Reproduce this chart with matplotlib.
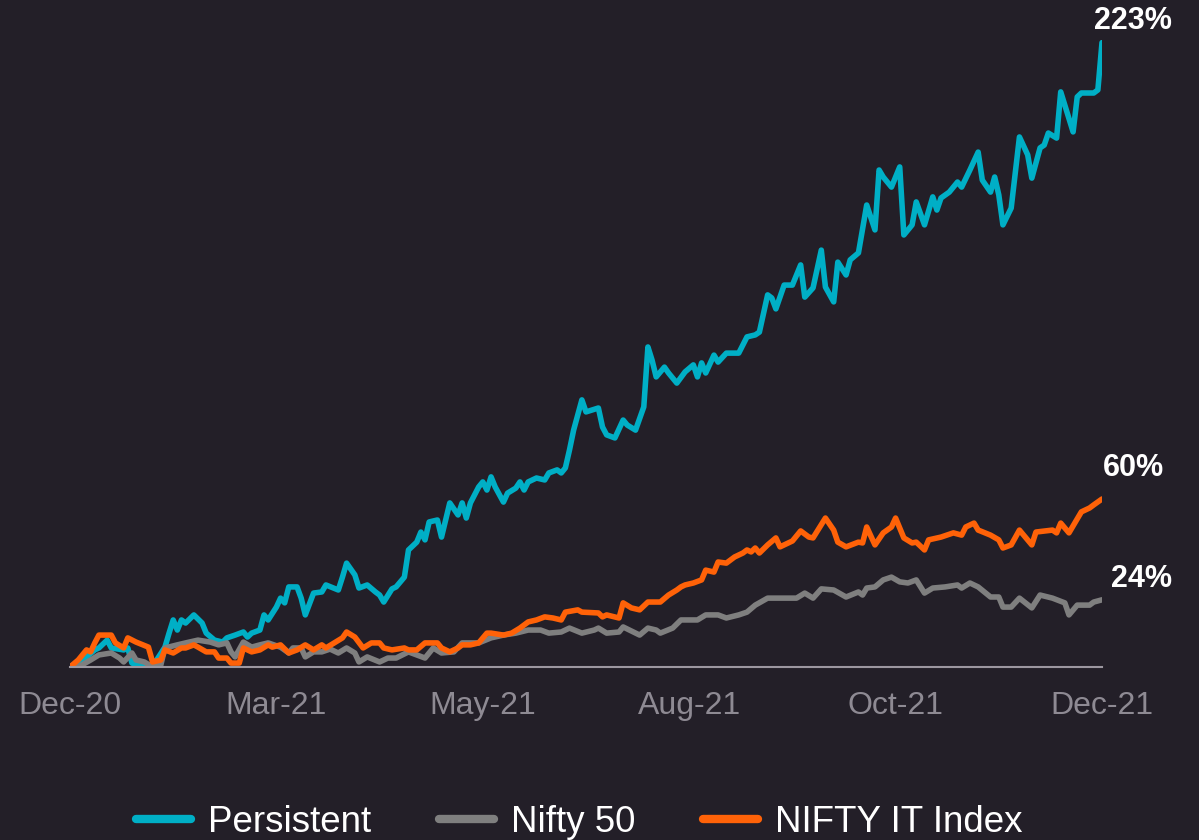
import matplotlib.pyplot as plt

# Cumulative return (%), x = trading day since Dec-20
persistent_day = [0, 4, 6, 7, 9, 10, 13, 14, 15, 17, 19, 21, 23, 24, 25, 26, 27, 28, 30, 32,
                  33, 35, 37, 38, 40, 42, 43, 44, 46, 47, 48, 50, 51, 52, 53, 55, 56, 57, 59, 61,
                  62, 65, 66, 67, 69, 70, 72, 74, 75, 76, 78, 79, 81, 82, 84, 85, 86, 87, 89, 90,
                  92, 94, 95, 96, 97, 99, 100, 101, 102, 103, 105, 106, 108, 109, 110, 111, 113, 115, 116, 118,
                  119, 120, 121, 122, 124, 125, 128, 129, 130, 132, 134, 135, 137, 139, 140, 141, 142, 144, 145, 147,
                  149, 151, 152, 153, 154, 156, 157, 159, 162, 164, 166, 167, 169, 170, 171, 173, 175, 177, 178, 180,
                  182, 183, 185, 186, 188, 189, 191, 193, 195, 196, 197, 199, 201, 202, 204, 205, 207, 209, 210, 211,
                  213, 215, 216, 218, 220, 221, 223, 224, 225, 226, 228, 230, 232, 233, 235, 236, 237, 239, 240, 243,
                  244, 245, 248, 249, 250]
persistent_pct = [0, 3.6, 6.1, 6.8, 9.6, 6.8, 6.1, 6.8, 1.4, 0.4, 0, 2.5, 7.1, 12.1, 16.8, 13.2, 16.8, 15.7, 18.6, 15.7,
                  12.1, 9.6, 8.9, 10.4, 11.4, 12.5, 10.7, 12.1, 13.2, 18.6, 16.8, 21.4, 24.6, 22.9, 28.6, 28.6, 24.6, 18.6, 26.4, 26.8,
                  29.3, 27.5, 32.1, 37.1, 32.9, 28.2, 29.3, 26.8, 25.7, 23.2, 27.9, 28.6, 32.1, 41.8, 44.6, 48.2, 45.4, 51.8, 52.5, 46.4,
                  58.6, 54.3, 58.6, 53.2, 58.6, 64.3, 66.1, 63.2, 67.9, 64.3, 58.9, 62.1, 63.9, 66.1, 63.2, 66.1, 67.5, 66.8, 69.3, 70.4,
                  69.3, 71.1, 77.5, 84.6, 95.4, 91.1, 92.5, 85.7, 82.9, 81.8, 88.2, 86.4, 84.6, 92.9, 114.3, 109.6, 103.6, 107.1, 105.0, 101.4,
                  105.4, 107.9, 103.6, 108.6, 105.0, 111.4, 108.9, 112.1, 112.1, 117.9, 118.6, 119.6, 132.9, 131.8, 127.9, 136.4, 136.4, 143.6, 132.1, 135.4,
                  148.9, 135.7, 130.4, 144.6, 140.0, 145.4, 147.9, 165.0, 156.1, 177.5, 175.0, 171.4, 178.6, 154.3, 157.9, 166.1, 157.9, 167.9, 163.2, 167.5,
                  169.6, 173.2, 171.4, 177.5, 183.9, 173.9, 169.6, 175.0, 168.6, 157.9, 163.9, 189.3, 182.9, 174.6, 185.4, 186.4, 190.7, 188.9, 205.4, 191.1,
                  203.6, 205.0, 205.0, 206.1, 223.0]

nifty_day = [0, 2, 5, 7, 10, 12, 13, 15, 16, 18, 20, 22, 23, 26, 28, 31, 34, 36, 38, 39,
             40, 42, 44, 46, 48, 51, 53, 54, 56, 57, 59, 61, 63, 65, 67, 69, 70, 72, 75, 77,
             79, 82, 84, 86, 88, 90, 93, 95, 97, 99, 102, 105, 108, 111, 114, 116, 119, 121, 124, 127,
             128, 130, 133, 134, 138, 140, 142, 143, 146, 148, 152, 154, 157, 159, 162, 164, 166, 169, 172, 176,
             178, 180, 182, 185, 188, 191, 192, 193, 195, 197, 199, 201, 203, 205, 207, 209, 212, 215, 216, 218,
             220, 223, 225, 226, 228, 230, 233, 235, 238, 241, 242, 244, 247, 248, 250]
nifty_pct = [0, 0, 2.5, 4.3, 5.0, 3.2, 1.8, 5.0, 2.5, 1.8, 0, 0.7, 6.8, 7.9, 8.6, 9.6, 8.9, 7.9, 8.6, 5.4,
             3.6, 8.9, 7.1, 7.9, 8.6, 7.1, 5.0, 6.8, 6.8, 3.6, 5.4, 5.4, 6.4, 5.0, 6.8, 5.0, 1.8, 3.6, 1.8, 3.2,
             3.2, 5.4, 4.3, 3.2, 6.8, 5.0, 5.4, 8.6, 8.6, 8.6, 10.4, 11.4, 12.1, 13.2, 13.2, 12.1, 12.5, 13.9, 12.1, 13.2,
             13.9, 12.1, 12.5, 14.3, 11.4, 13.9, 13.2, 12.1, 13.9, 16.8, 16.8, 18.6, 18.6, 17.5, 18.6, 19.6, 22.1, 24.6, 24.6, 24.6,
             26.4, 24.6, 27.9, 27.5, 25.0, 26.8, 25.7, 28.2, 28.6, 31.1, 32.1, 30.4, 30.0, 31.1, 26.4, 28.2, 28.6, 29.3, 28.2, 30.0,
             28.6, 25.0, 25.0, 21.4, 21.4, 24.6, 21.1, 25.7, 24.6, 22.9, 18.6, 22.1, 22.1, 23.2, 24.0]

it_day = [0, 2, 4, 5, 6, 7, 10, 11, 13, 14, 16, 19, 20, 22, 23, 25, 27, 28, 30, 31,
          33, 35, 36, 38, 39, 41, 42, 44, 46, 48, 49, 51, 53, 55, 57, 59, 61, 62, 64, 66,
          67, 69, 71, 73, 75, 76, 78, 81, 82, 84, 86, 89, 90, 92, 94, 95, 97, 99, 101, 102,
          105, 107, 109, 111, 113, 115, 117, 119, 120, 123, 124, 128, 129, 130, 133, 134, 136, 138, 140, 143,
          145, 147, 148, 149, 151, 153, 154, 156, 157, 159, 161, 163, 164, 165, 166, 167, 169, 171, 172, 175,
          177, 179, 180, 183, 185, 186, 188, 191, 192, 193, 195, 197, 199, 200, 202, 204, 205, 207, 208, 211,
          214, 216, 217, 219, 220, 223, 225, 226, 228, 230, 233, 234, 238, 239, 240, 242, 245, 247, 248, 250]
it_pct = [0, 2.5, 6.1, 5.4, 8.6, 11.4, 11.4, 8.6, 6.8, 10.4, 8.9, 7.1, 1.8, 2.5, 6.1, 5.0, 6.8, 6.8, 7.9, 7.1,
          5.4, 5.4, 3.2, 3.2, 1.4, 1.4, 6.8, 5.4, 6.1, 7.9, 7.1, 7.9, 5.0, 6.1, 7.9, 6.1, 7.9, 6.8, 8.6, 10.4,
          12.5, 10.7, 6.8, 8.6, 8.6, 6.8, 6.1, 6.8, 6.1, 6.1, 8.6, 8.6, 6.8, 5.4, 6.8, 7.9, 7.9, 8.6, 12.1, 12.1,
          11.4, 12.1, 13.9, 16.1, 16.8, 17.9, 17.5, 16.8, 19.6, 20.4, 19.6, 19.3, 17.9, 18.6, 17.5, 22.9, 21.1, 20.4, 23.2, 23.2,
          25.7, 27.5, 28.6, 29.3, 30.0, 31.1, 34.6, 33.9, 37.5, 37.1, 39.3, 40.7, 41.8, 41.1, 42.5, 40.7, 43.6, 46.1, 42.9, 45.0,
          48.6, 46.4, 46.1, 53.2, 48.9, 44.6, 42.9, 44.6, 44.3, 50.0, 43.6, 47.9, 50.0, 53.2, 46.1, 44.3, 44.6, 41.8, 45.4, 46.4,
          47.9, 47.1, 50.0, 51.4, 48.9, 47.1, 45.4, 42.5, 43.6, 48.9, 43.6, 48.2, 48.9, 47.9, 51.4, 47.9, 55.4, 56.8, 57.9, 60.0]

tick_pos = [0, 50, 100, 150, 200, 250]
tick_labels = ['Dec-20', 'Mar-21', 'May-21', 'Aug-21', 'Oct-21', 'Dec-21']

bg = '#231f28'
plt.rcParams['font.family'] = ['Liberation Sans', 'DejaVu Sans']

fig = plt.figure(figsize=(11.99, 8.4), dpi=100, facecolor=bg)
ax = fig.add_axes([70 / 1199, 1 - 667 / 840, 1032 / 1199, 627 / 840])
ax.set_facecolor(bg)

series = [
    ('Persistent', persistent_day, persistent_pct, '#00afc6', '223%', (31, 22)),
    ('Nifty 50', nifty_day, nifty_pct, '#7f7f7f', '24%', (39, 21)),
    ('NIFTY IT Index', it_day, it_pct, '#ff6208', '60%', (31, 31)),
]
for name, d, v, c, lab, off in series:
    ax.plot(d, v, color=c, lw=4, label=name, solid_joinstyle='round', solid_capstyle='round')
    ax.annotate(lab, (d[-1], v[-1]), xytext=off, textcoords='offset pixels',
                ha='center', va='center', color='white', fontsize=22, fontweight='bold')

ax.set_xlim(0, 250)
ax.set_ylim(0, 627 / 2.8)
for s in ['top', 'right', 'left']:
    ax.spines[s].set_visible(False)
ax.spines['bottom'].set_color('#9c97a0')
ax.spines['bottom'].set_linewidth(1.5)
ax.set_yticks([])
ax.set_xticks(tick_pos)
ax.set_xticklabels(tick_labels)
ax.tick_params(axis='x', length=0, pad=17, labelsize=23, labelcolor='#8e8a93')

leg = fig.legend(loc='center', bbox_to_anchor=(579 / 1199, 1 - 822 / 840), ncol=3, frameon=False,
                 fontsize=26.5, handlelength=1.5, handletextpad=0.45, columnspacing=1.85)
for t in leg.get_texts():
    t.set_color('white')
for h in leg.get_lines():
    h.set_linewidth(6)
    h.set_solid_capstyle('round')

fig.savefig('out.png', dpi=100, facecolor=bg)
